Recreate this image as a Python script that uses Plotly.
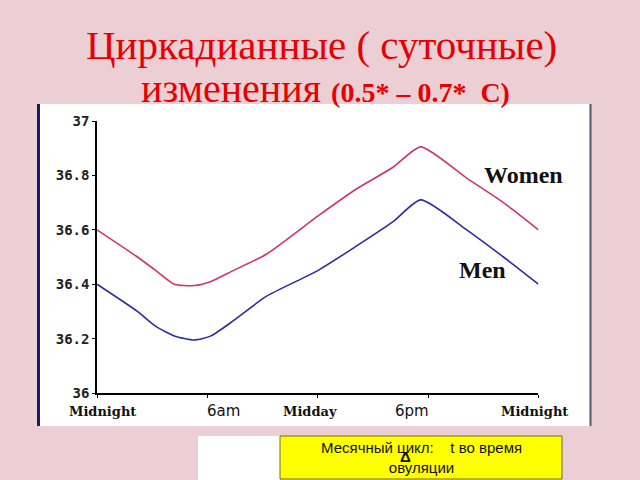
import plotly.graph_objects as go

# ---- data ----
hours = [0, 2.2, 3.2, 4.2, 5.3, 6.2, 7.4, 9.2, 12.0, 14.1, 16.1, 17.6, 20.1, 22.1, 24]
women = [36.60, 36.50, 36.45, 36.40, 36.395, 36.41, 36.45, 36.51, 36.65, 36.75, 36.83, 36.905, 36.79, 36.70, 36.60]
men = [36.40, 36.30, 36.245, 36.21, 36.195, 36.21, 36.265, 36.355, 36.45, 36.54, 36.63, 36.71, 36.60, 36.50, 36.40]
ytick_vals = [36, 36.2, 36.4, 36.6, 36.8, 37]
ytick_text = ["36", "36.2", "36.4", "36.6", "36.8", "37"]
xtick_vals = [0, 6, 12, 18, 24]
xlabel_text = ["Midnight", "6am", "Midday", "6pm", "Midnight"]
xlabel_pos = [0.3, 6.9, 11.6, 17.1, 23.8]

W, H = 640, 480
def px(x):
    return x / W
def py(y):
    return 1 - y / H

fig = go.Figure()
fig.add_trace(go.Scatter(x=hours, y=women, mode="lines",
                         line=dict(color="#D0356A", width=1.6, shape="spline", smoothing=0.6),
                         hoverinfo="skip"))
fig.add_trace(go.Scatter(x=hours, y=men, mode="lines",
                         line=dict(color="#2B2BA3", width=1.6, shape="spline", smoothing=0.6),
                         hoverinfo="skip"))

fig.update_layout(
    width=W, height=H, margin=dict(l=0, r=0, t=0, b=0, pad=0, autoexpand=False),
    paper_bgcolor="#EBCFD5", plot_bgcolor="rgba(0,0,0,0)",
    showlegend=False,
    xaxis=dict(domain=[px(97), px(538.4)], range=[0, 24], tickvals=xtick_vals,
               showticklabels=False, showgrid=False, zeroline=False, automargin=False,
               showline=True, linecolor="black", linewidth=1.5,
               ticks="outside", ticklen=3, tickcolor="black"),
    yaxis=dict(domain=[py(393), py(121)], range=[36, 37], tickvals=ytick_vals,
               ticktext=ytick_text, showgrid=False, zeroline=False, automargin=False,
               showline=True, linecolor="black", linewidth=1.5,
               ticks="outside", ticklen=3, tickcolor="black",
               tickfont=dict(family="DejaVu Sans Mono", size=14, color="#222", weight="bold")),
)

shapes = [
    # white chart panel
    dict(type="rect", xref="paper", yref="paper", x0=px(37), x1=px(591), y0=py(426), y1=py(104),
         fillcolor="white", line=dict(width=0), layer="below"),
    dict(type="line", xref="paper", yref="paper", x0=px(38.5), x1=px(38.5), y0=py(426), y1=py(104),
         line=dict(color="#1A1A6E", width=3), layer="below"),
    dict(type="line", xref="paper", yref="paper", x0=px(590.5), x1=px(590.5), y0=py(426), y1=py(104),
         line=dict(color="#55556A", width=2), layer="below"),
    # bottom boxes
    dict(type="rect", xref="paper", yref="paper", x0=px(198), x1=px(280), y0=py(480), y1=py(436),
         fillcolor="white", line=dict(width=0), layer="below"),
    dict(type="rect", xref="paper", yref="paper", x0=px(280), x1=px(562), y0=py(479), y1=py(436),
         fillcolor="#FFFF00", line=dict(color="#6E6E20", width=1), layer="below"),
]
fig.update_layout(shapes=shapes)

ann = []
for pos, txt in zip(xlabel_pos, xlabel_text):
    serif = txt.startswith("Mid")
    ann.append(dict(x=pos, y=py(411), xref="x", yref="paper", text=("<b>%s</b>" % txt) if serif else txt,
                    showarrow=False, xanchor="center", yanchor="middle",
                    font=dict(family="DejaVu Serif" if serif else "DejaVu Sans",
                              size=13 if serif else 15, color="#111")))
ann.append(dict(x=px(523), y=py(175), xref="paper", yref="paper", text="<b>Women</b>",
                showarrow=False, xanchor="center", yanchor="middle",
                font=dict(family="Liberation Serif", size=24, color="#111")))
ann.append(dict(x=px(482), y=py(270), xref="paper", yref="paper", text="<b>Men</b>",
                showarrow=False, xanchor="center", yanchor="middle",
                font=dict(family="Liberation Serif", size=24, color="#111")))
# titles
ann.append(dict(x=px(321), y=py(45), xref="paper", yref="paper", text="Циркадианные ( суточные)",
                showarrow=False, xanchor="center", yanchor="middle",
                font=dict(family="Liberation Serif", size=41, color="#E60000")))
ann.append(dict(x=px(325), y=py(88), xref="paper", yref="paper",
                text="изменения <span style='font-size:28px'><b>(0.5* – 0.7*&nbsp;&nbsp;C)</b></span>",
                showarrow=False, xanchor="center", yanchor="middle",
                font=dict(family="Liberation Serif", size=40, color="#E60000")))
# bottom box text
ann.append(dict(x=px(421), y=py(457), xref="paper", yref="paper",
                text="Месячный цикл:&nbsp;&nbsp;&nbsp;&nbsp;t во время<br>овуляции",
                showarrow=False, align="center", xanchor="center", yanchor="middle",
                font=dict(family="Liberation Sans", size=15, color="#111")))
ann.append(dict(x=px(405), y=py(456), xref="paper", yref="paper", text="<b>Δ</b>",
                showarrow=False, xanchor="center", yanchor="middle",
                font=dict(family="Liberation Sans", size=15, color="#111")))
fig.update_layout(annotations=ann)

fig.write_html("out.html")
